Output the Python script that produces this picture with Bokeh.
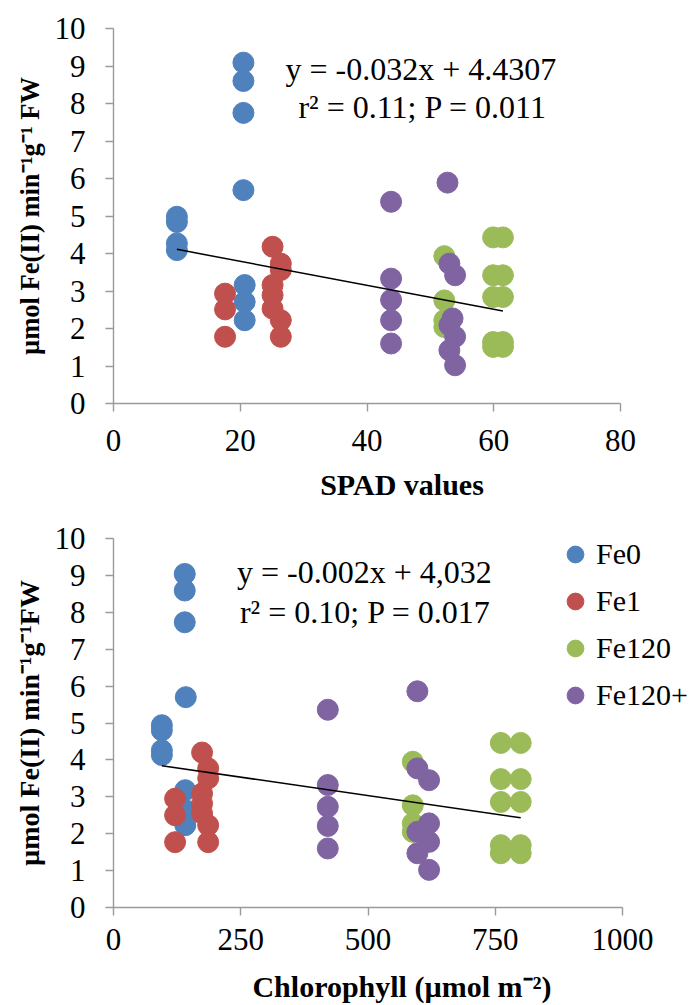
from bokeh.plotting import figure
from bokeh.models import Range1d, FixedTicker, Label, Legend, LegendItem
from bokeh.layouts import column
from bokeh.embed import file_html
from bokeh.resources import INLINE

groups = ["Fe0", "Fe1", "Fe120", "Fe120+"]
colors = ["#4F81BD", "#C0504D", "#9BBB59", "#8064A2"]

# ---- Top panel: SPAD values ----
spad_fe0 = [10, 10, 10, 10, 20.5, 20.5, 20.5, 20.5, 20.7, 20.7, 20.7]
rate_a_fe0 = [4.98, 4.84, 4.27, 4.09, 9.09, 8.6, 7.75, 5.69, 3.16, 2.71, 2.22]
spad_fe1 = [17.6, 17.6, 17.6, 25.1, 25.1, 25.1, 25.1, 26.4, 26.4, 26.4, 26.4]
rate_a_fe1 = [2.93, 2.51, 1.78, 4.18, 3.16, 2.89, 2.53, 3.73, 3.56, 2.22, 1.78]
spad_fe120 = [52.2, 52.2, 52.2, 52.2, 59.9, 59.9, 59.9, 59.9, 59.9,
              61.45, 61.45, 61.45, 61.45, 61.45]
rate_a_fe120 = [3.93, 2.75, 2.22, 2.04, 4.43, 3.42, 2.84, 1.64, 1.51,
                4.43, 3.42, 2.84, 1.64, 1.51]
spad_fe120p = [43.8, 43.8, 43.8, 43.8, 43.8, 52.7, 53.0, 53.9, 53.5, 53.0, 53.9, 53.0, 53.9]
rate_a_fe120p = [5.38, 3.33, 2.76, 2.22, 1.6, 5.89, 3.73, 3.42, 2.27, 2.09, 1.78, 1.42, 1.02]
fit_a = (-0.032, 4.4307)
eq_a = ["y = -0.032x + 4.4307", "r\u00b2 = 0.11; P = 0.011"]

# ---- Bottom panel: Chlorophyll ----
chl_fe0 = [95, 95, 95, 95, 140, 140, 140, 142, 141, 141, 141]
rate_b_fe0 = [4.94, 4.8, 4.26, 4.13, 9.04, 8.59, 7.73, 5.7, 3.18, 2.64, 2.23]
chl_fe1 = [121, 121, 121, 174, 174, 174, 174, 186, 186, 186, 186]
rate_b_fe1 = [2.95, 2.5, 1.77, 4.2, 3.09, 2.82, 2.55, 3.77, 3.5, 2.23, 1.77]
chl_fe120 = [588, 588, 588, 588, 761, 761, 761, 761, 761, 800, 800, 800, 800, 800]
rate_b_fe120 = [3.95, 2.77, 2.28, 2.05, 4.46, 3.48, 2.86, 1.69, 1.47,
                4.46, 3.48, 2.86, 1.69, 1.47]
chl_fe120p = [421, 421, 421, 421, 421, 597, 597, 620, 620, 597, 620, 597, 620]
rate_b_fe120p = [5.36, 3.32, 2.73, 2.21, 1.6, 5.86, 3.77, 3.45, 2.28, 2.05, 1.78, 1.47, 1.02]
fit_b = (-0.002, 4.032)
eq_b = ["y = -0.002x + 4,032", "r\u00b2 = 0.10; P = 0.017"]

y_ticks = list(range(0, 11))
x_ticks_a = [0, 20, 40, 60, 80]
x_ticks_b = [0, 250, 500, 750, 1000]

FONT = "'Liberation Serif', 'Times New Roman', Tinos, serif"
AXIS_COLOR = "#9a9a9a"
W = 690
LEFT = 113


def style(p, xlabel, ylabel, ylabel_size, xticks, xbounds, tick_standoff_x, label_standoff_x):
    p.xgrid.visible = False
    p.ygrid.visible = False
    p.outline_line_color = None
    for ax in (p.xaxis[0], p.yaxis[0]):
        ax.axis_line_color = AXIS_COLOR
        ax.axis_line_width = 1.4
        ax.major_tick_line_color = AXIS_COLOR
        ax.major_tick_line_width = 1.4
        ax.major_tick_out = 8
        ax.major_tick_in = 0
        ax.minor_tick_line_color = None
        ax.major_label_text_font = FONT
        ax.major_label_text_font_size = "31px"
        ax.major_label_text_color = "black"
        ax.axis_label_text_font = FONT
        ax.axis_label_text_font_style = "bold"
        ax.axis_label_text_color = "black"
    p.xaxis[0].axis_label_text_font_size = "30px"
    p.yaxis[0].axis_label_text_font_size = ylabel_size
    p.xaxis[0].ticker = FixedTicker(ticks=xticks)
    p.xaxis[0].bounds = xbounds
    p.yaxis[0].ticker = FixedTicker(ticks=y_ticks)
    p.xaxis[0].axis_label = xlabel
    p.yaxis[0].axis_label = ylabel
    p.xaxis[0].major_label_standoff = tick_standoff_x
    p.xaxis[0].axis_label_standoff = label_standoff_x
    p.yaxis[0].major_label_standoff = 20
    p.yaxis[0].axis_label_standoff = 7


def panel(xs, ys, fit, eq, eq_pos, xmax, px_per_xmax, xticks, xlabel, ylabel, ylabel_size,
          h, vborders, stand):
    # the frame runs to the right edge of the figure (so the legend is not
    # clipped); the axis line itself is bounded to 0..xmax
    xrange_end = xmax * (W - LEFT) / px_per_xmax
    p = figure(width=W, height=h, output_backend="svg", toolbar_location=None,
               x_range=Range1d(0, xrange_end), y_range=Range1d(0, 10),
               min_border_left=LEFT, min_border_right=0,
               min_border_top=vborders[0], min_border_bottom=vborders[1])
    style(p, xlabel, ylabel, ylabel_size, xticks, (0, xmax), stand[0], stand[1])
    rends = []
    for x, y, c in zip(xs, ys, colors):
        r = p.scatter(x, y, size=21, fill_color=c, line_color=c, line_width=1)
        rends.append(r)
    allx = [v for x in xs for v in x]
    x0, x1 = min(allx), max(allx)
    p.line([x0, x1], [fit[0] * x0 + fit[1], fit[0] * x1 + fit[1]],
           line_color="black", line_width=1.5)
    for txt, (ex, ey) in zip(eq, eq_pos):
        p.add_layout(Label(x=ex, y=ey, text=txt, text_align="center",
                           text_baseline="alphabetic", text_font=FONT,
                           text_font_size="32px", text_color="black"))
    return p, rends


p1, _ = panel([spad_fe0, spad_fe1, spad_fe120, spad_fe120p],
              [rate_a_fe0, rate_a_fe1, rate_a_fe120, rate_a_fe120p],
              fit_a, eq_a, [(48.5, 8.91), (48.8, 7.90)], 80, 507.0, x_ticks_a,
              "SPAD values", "\u00b5mol Fe(II) min\u207b\u00b9g\u207b\u00b9 FW", "26.5px",
              505, (28, 102), (18, 14))

p2, rends = panel([chl_fe0, chl_fe1, chl_fe120, chl_fe120p],
                  [rate_b_fe0, rate_b_fe1, rate_b_fe120, rate_b_fe120p],
                  fit_b, eq_b, [(493, 9.10), (495, 8.02)], 1000, 509.0, x_ticks_b,
                  "Chlorophyll (\u00b5mol m\u207b\u00b2)", "\u00b5mol Fe(II) min\u207b\u00b9g\u207b\u00b9FW",
                  "28px", 500, (33, 97), (13, 17))

legend = Legend(items=[LegendItem(label=g, renderers=[r]) for g, r in zip(groups, rends)],
                location=(441, 191), glyph_width=42, glyph_height=42,
                label_standoff=0, spacing=5, padding=0, margin=0,
                border_line_color=None, background_fill_alpha=0,
                label_text_font=FONT, label_text_font_size="30px",
                label_text_color="black")
p2.add_layout(legend)

layout = column(p1, p2, spacing=0)
open("out.html", "w").write(file_html(layout, INLINE))
